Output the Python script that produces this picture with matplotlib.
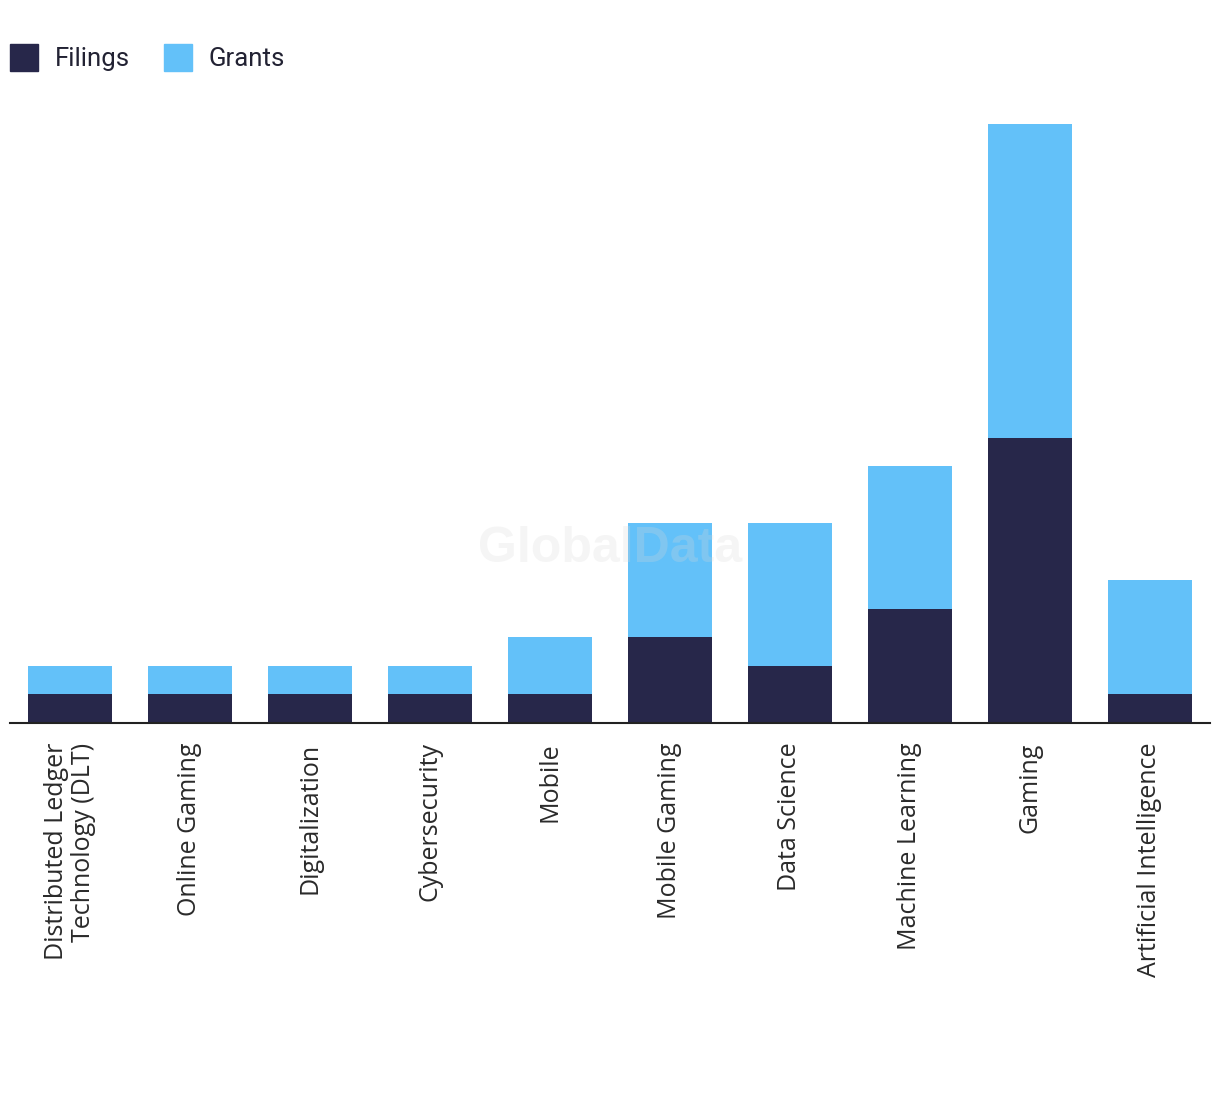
import matplotlib
matplotlib.use("Agg")
import matplotlib.pyplot as plt
from matplotlib.patches import Patch

categories = ["Distributed Ledger\nTechnology (DLT)", "Online Gaming", "Digitalization",
              "Cybersecurity", "Mobile", "Mobile Gaming", "Data Science",
              "Machine Learning", "Gaming", "Artificial Intelligence"]
filings = [1, 1, 1, 1, 1, 3, 2, 4, 10, 1]
grants = [1, 1, 1, 1, 2, 4, 5, 5, 11, 4]

dark = "#27274a"
light = "#63c1f9"

plt.rcParams['font.family'] = ['Roboto', 'DejaVu Sans']

fig = plt.figure(figsize=(12.2, 10.94), dpi=100)
ax = fig.add_axes([10/1220, (1094-723)/1094, 1200/1220, (723-124)/1094])

x = list(range(len(categories)))
ax.bar(x, filings, width=0.7, color=dark, zorder=2)
ax.bar(x, grants, width=0.7, bottom=filings, color=light, zorder=2)

ax.set_xlim(-0.5, len(categories) - 0.5)
ax.set_ylim(0, 21)
ax.set_yticks([])
for s in ["top", "right", "left"]:
    ax.spines[s].set_visible(False)
ax.spines["bottom"].set_color("#222222")
ax.spines["bottom"].set_linewidth(1.5)
ax.set_xticks(x)
ax.set_xticklabels(categories, rotation=90, fontsize=18, color="#2a2a2a",
                   ha="center", va="top", multialignment="right",
                   family=["Open Sans", "DejaVu Sans"], linespacing=1.15)
ax.tick_params(axis="x", length=0, pad=14)

ax.text(0.5, 0.29, "GlobalData", transform=ax.transAxes, ha="center", va="center",
        fontsize=36, fontweight="bold", color="#d8d8d8", alpha=0.25, zorder=5,
        family=["Liberation Sans", "DejaVu Sans"])

handles = [Patch(color=dark, label="Filings"), Patch(color=light, label="Grants")]
fig.legend(handles=handles, loc="upper left", bbox_to_anchor=(10/1220, 1 - 44/1094), ncol=2,
           frameon=False, fontsize=18.5, handlelength=1.1, handleheight=1.25,
           handletextpad=0.66, columnspacing=1.3, labelcolor="#222233",
           borderaxespad=0, borderpad=0)

fig.savefig("out.png", dpi=100, facecolor="white")
